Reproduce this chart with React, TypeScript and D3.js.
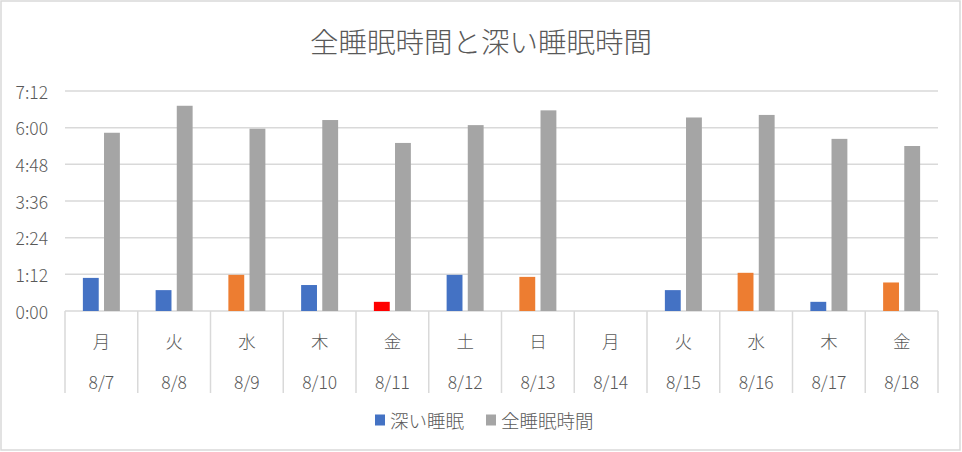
import * as d3 from "d3";
import { useEffect, useRef } from "react";

// categories
const weekdays = ["月", "火", "水", "木", "金", "土", "日", "月", "火", "水", "木", "金"];
const dates = ["8/7", "8/8", "8/9", "8/10", "8/11", "8/12", "8/13", "8/14", "8/15", "8/16", "8/17", "8/18"];

// values in minutes
const deepSleep = [65, 41, 71, 51, 18, 71, 67, 0, 41, 75, 18, 56];
const totalSleep = [350, 403, 358, 375, 330, 365, 394, 0, 380, 385, 338, 324];
const deepColors = ["#4472C4", "#4472C4", "#ED7D31", "#4472C4", "#FF0000", "#4472C4", "#ED7D31", "#4472C4", "#4472C4", "#ED7D31", "#4472C4", "#ED7D31"];

const yTicks = [0, 72, 144, 216, 288, 360, 432];
const seriesNames = ["深い睡眠", "全睡眠時間"];
const seriesColors = ["#4472C4", "#A5A5A5"];

const FONT = "'Noto Sans CJK JP', 'Noto Sans', sans-serif";
const TEXT = "#595959";
const GRID = "#D9D9D9";

export default function App() {
  const svgRef = useRef<SVGSVGElement | null>(null);

  useEffect(() => {
    const svg = d3.select(svgRef.current);
    svg.selectAll("*").remove();

    const width = 962;
    const height = 452;
    const margin = { top: 91, right: 24, bottom: 141, left: 65 };
    const plotBottom = height - margin.bottom;

    // chart border
    svg
      .append("rect")
      .attr("x", 1)
      .attr("y", 1)
      .attr("width", width - 3)
      .attr("height", height - 3)
      .attr("fill", "white")
      .attr("stroke", GRID)
      .attr("stroke-width", 1.5);

    // title
    svg
      .append("text")
      .attr("x", 481)
      .attr("y", 40)
      .attr("text-anchor", "middle")
      .attr("dominant-baseline", "central")
      .attr("font-family", FONT)
      .attr("font-size", 28.5)
      .attr("font-weight", 300)
      .attr("fill", TEXT)
      .text("全睡眠時間と深い睡眠時間");

    const x0 = d3
      .scaleBand<string>()
      .domain(dates)
      .range([margin.left, width - margin.right]);

    const bw = x0.bandwidth();
    const groupW = 37;
    const x1 = d3
      .scaleBand<string>()
      .domain(seriesNames)
      .range([(bw - groupW) / 2, (bw + groupW) / 2])
      .paddingInner(0.25);

    const y = d3
      .scaleLinear()
      .domain([0, 432])
      .range([plotBottom, margin.top]);

    const fmt = (m: number) => `${Math.floor(m / 60)}:${String(m % 60).padStart(2, "0")}`;

    // gridlines
    svg
      .append("g")
      .selectAll("line")
      .data(yTicks)
      .join("line")
      .attr("x1", margin.left)
      .attr("x2", width - margin.right)
      .attr("y1", (d) => y(d))
      .attr("y2", (d) => y(d))
      .attr("stroke", GRID)
      .attr("stroke-width", 1.5);

    // y labels
    svg
      .append("g")
      .selectAll("text")
      .data(yTicks)
      .join("text")
      .attr("x", 48)
      .attr("y", (d) => y(d))
      .attr("text-anchor", "end")
      .attr("dominant-baseline", "central")
      .attr("font-family", FONT)
      .attr("font-size", 17.5)
      .attr("font-weight", 300)
      .attr("fill", TEXT)
      .text(fmt);

    // category separators
    const seps = [...dates.map((d) => x0(d)!), width - margin.right];
    svg
      .append("g")
      .selectAll("line")
      .data(seps)
      .join("line")
      .attr("x1", (d) => d)
      .attr("x2", (d) => d)
      .attr("y1", plotBottom)
      .attr("y2", plotBottom + 82)
      .attr("stroke", GRID)
      .attr("stroke-width", 1.5);

    // category labels
    const cat = svg.append("g").attr("font-family", FONT).attr("font-size", 17.5).attr("font-weight", 300).attr("fill", TEXT);
    cat
      .selectAll("text.wd")
      .data(weekdays)
      .join("text")
      .attr("class", "wd")
      .attr("x", (_, i) => x0(dates[i])! + bw / 2)
      .attr("y", plotBottom + 29)
      .attr("text-anchor", "middle")
      .attr("dominant-baseline", "central")
      .text((d) => d);
    cat
      .selectAll("text.dt")
      .data(dates)
      .join("text")
      .attr("class", "dt")
      .attr("x", (d) => x0(d)! + bw / 2)
      .attr("y", plotBottom + 70)
      .attr("text-anchor", "middle")
      .attr("dominant-baseline", "central")
      .text((d) => d);

    // bars
    const bars = svg.append("g");
    bars
      .selectAll("rect.deep")
      .data(deepSleep)
      .join("rect")
      .attr("class", "deep")
      .attr("x", (_, i) => x0(dates[i])! + x1(seriesNames[0])!)
      .attr("y", (d) => y(d))
      .attr("width", x1.bandwidth())
      .attr("height", (d) => plotBottom - y(d))
      .attr("fill", (_, i) => deepColors[i]);
    bars
      .selectAll("rect.total")
      .data(totalSleep)
      .join("rect")
      .attr("class", "total")
      .attr("x", (_, i) => x0(dates[i])! + x1(seriesNames[1])!)
      .attr("y", (d) => y(d))
      .attr("width", x1.bandwidth())
      .attr("height", (d) => plotBottom - y(d))
      .attr("fill", seriesColors[1]);

    // legend
    const legendX = [375, 486];
    const legend = svg
      .append("g")
      .selectAll("g")
      .data(seriesNames)
      .join("g")
      .attr("transform", (_, i) => `translate(${legendX[i]},420)`);
    legend
      .append("rect")
      .attr("x", 0)
      .attr("y", -5.5)
      .attr("width", 10)
      .attr("height", 11)
      .attr("fill", (_, i) => seriesColors[i]);
    legend
      .append("text")
      .attr("x", 15)
      .attr("y", 0)
      .attr("dominant-baseline", "central")
      .attr("font-family", FONT)
      .attr("font-size", 18.5)
      .attr("font-weight", 300)
      .attr("fill", TEXT)
      .text((d) => d);
  }, []);

  return (
    <svg
      ref={svgRef}
      width={962}
      height={452}
      style={{ position: "absolute", left: 0, top: 0 }}
    ></svg>
  );
}
